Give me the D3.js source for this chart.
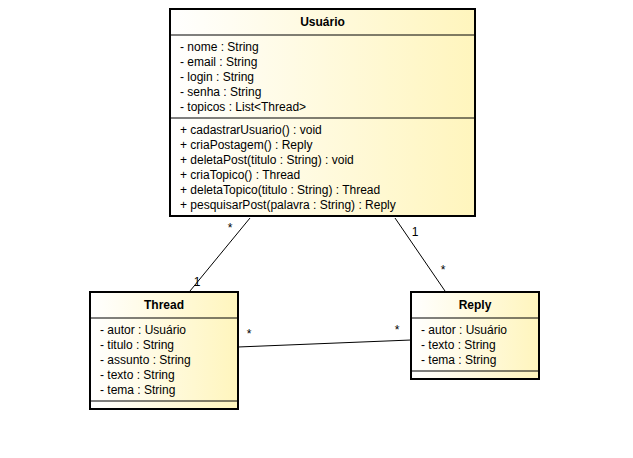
<!DOCTYPE html>
<html><head><meta charset="utf-8">
<script src="https://cdn.jsdelivr.net/npm/d3@7"></script>
<style>body{margin:0;background:#fff}</style>
</head><body>
<div id="chart"></div>
<script>
const classNames = ["Usuário", "Thread", "Reply"]
const usuarioAttrs = ["- nome : String", "- email : String", "- login : String", "- senha : String", "- topicos : List<Thread>"]
const usuarioOps = ["+ cadastrarUsuario() : void", "+ criaPostagem() : Reply", "+ deletaPost(titulo : String) : void",
  "+ criaTopico() : Thread", "+ deletaTopico(titulo : String) : Thread", "+ pesquisarPost(palavra : String) : Reply"]
const threadAttrs = ["- autor : Usuário", "- titulo : String", "- assunto : String", "- texto : String", "- tema : String"]
const replyAttrs = ["- autor : Usuário", "- texto : String", "- tema : String"]
const links = [
  { from: [250, 218], to: [190, 291], a: ["*", 230, 232], b: ["1", 197, 286] },
  { from: [395, 218], to: [445, 291], a: ["1", 415, 236], b: ["*", 443, 274] },
  { from: [238, 347], to: [411, 340], a: ["*", 249, 338], b: ["*", 397, 334] }
]

const svg = d3.select('#chart').append('svg').attr('width', 633).attr('height', 458)
const grad = svg.append('defs').append('linearGradient').attr('id', 'g')
grad.append('stop').attr('offset', '0%').attr('stop-color', '#ffffff')
grad.append('stop').attr('offset', '100%').attr('stop-color', '#fff5bd')

const boxes = [
  { name: classNames[0], x: 170, y: 9, w: 305, attrs: usuarioAttrs, ops: usuarioOps },
  { name: classNames[1], x: 90, y: 292, w: 148, attrs: threadAttrs, ops: [] },
  { name: classNames[2], x: 411, y: 292, w: 128, attrs: replyAttrs, ops: [] }
]
const row = 15, head = 26

links.forEach(l => {
  svg.append('line').attr('x1', l.from[0]).attr('y1', l.from[1]).attr('x2', l.to[0]).attr('y2', l.to[1])
    .attr('stroke', '#000').attr('stroke-width', 1)
  ;[l.a, l.b].forEach(t => svg.append('text').attr('x', t[1]).attr('y', t[2]).text(t[0])
    .attr('font-family', 'Arial, Liberation Sans').attr('font-size', 12).attr('text-anchor', 'middle'))
})

boxes.forEach(b => {
  const sep1 = b.y + head
  const sep2 = sep1 + 8 + b.attrs.length * row
  const bottom = sep2 + (b.ops.length ? 8 + b.ops.length * row : 8)
  const g = svg.append('g')
  g.append('rect').attr('x', b.x).attr('y', b.y).attr('width', b.w).attr('height', bottom - b.y)
    .attr('fill', 'url(#g)').attr('stroke', '#000').attr('stroke-width', 2)
  ;[sep1, sep2].forEach(y => g.append('line').attr('x1', b.x).attr('x2', b.x + b.w).attr('y1', y).attr('y2', y)
    .attr('stroke', '#000').attr('stroke-width', 1))
  g.append('text').attr('x', b.x + b.w / 2).attr('y', b.y + 17).attr('text-anchor', 'middle')
    .attr('font-family', 'Arial, Liberation Sans').attr('font-size', 12).attr('font-weight', 'bold').text(b.name)
  g.selectAll('text.a').data(b.attrs).enter().append('text').attr('class', 'a')
    .attr('x', b.x + 10).attr('y', (d, i) => sep1 + 16 + i * row)
    .attr('font-family', 'Arial, Liberation Sans').attr('font-size', 12).text(d => d)
  g.selectAll('text.o').data(b.ops).enter().append('text').attr('class', 'o')
    .attr('x', b.x + 10).attr('y', (d, i) => sep2 + 16 + i * row)
    .attr('font-family', 'Arial, Liberation Sans').attr('font-size', 12).text(d => d)
})
</script>
</body></html>
